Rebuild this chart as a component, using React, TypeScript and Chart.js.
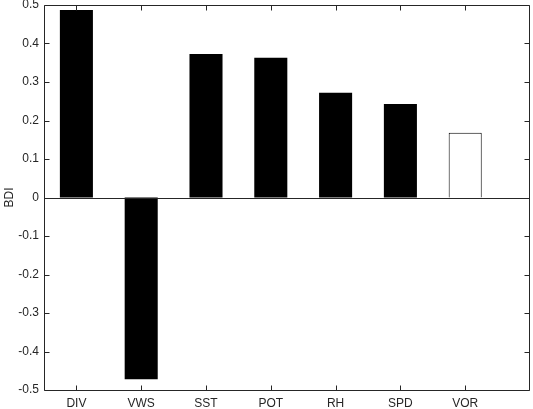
import React, { useEffect, useRef } from 'react';
import { Chart, registerables } from 'chart.js';

Chart.register(...registerables);

const categories = ['DIV', 'VWS', 'SST', 'POT', 'RH', 'SPD', 'VOR'];
const bdiValues = [0.487, -0.472, 0.373, 0.363, 0.272, 0.243, 0.168];
const barFilled = [true, true, true, true, true, true, false];
const yTicks = [-0.5, -0.4, -0.3, -0.2, -0.1, 0, 0.1, 0.2, 0.3, 0.4, 0.5];
const yTickLabels = ['-0.5', '-0.4', '-0.3', '-0.2', '-0.1', '0', '0.1', '0.2', '0.3', '0.4', '0.5'];
const yTitle = 'BDI';

const AXIS_COLOR = '#262626';
const FONT = { family: 'Liberation Sans, Arial, Helvetica, sans-serif', size: 12 };

const boxPlugin = {
  id: 'matlabBox',
  afterDatasetsDraw(chart: any) {
    const { ctx, chartArea, scales } = chart;
    const x = scales.x;
    const y = scales.y;
    const L = Math.round(chartArea.left) + 0.5;
    const R = Math.round(chartArea.right) - 0.5;
    const T = Math.round(chartArea.top) + 0.5;
    const B = Math.round(chartArea.bottom) + 0.5;
    const tl = 5;
    ctx.save();
    ctx.strokeStyle = AXIS_COLOR;
    ctx.lineWidth = 1;
    const z = Math.round(y.getPixelForValue(0)) + 0.5;
    ctx.beginPath();
    ctx.moveTo(L, z);
    ctx.lineTo(R, z);
    ctx.stroke();
    ctx.beginPath();
    ctx.rect(L, T, R - L, B - T);
    ctx.stroke();
    ctx.beginPath();
    yTicks.forEach((v) => {
      const py = Math.round(y.getPixelForValue(v)) + 0.5;
      ctx.moveTo(L, py);
      ctx.lineTo(L + tl, py);
      ctx.moveTo(R, py);
      ctx.lineTo(R - tl, py);
    });
    categories.forEach((_, i) => {
      const px = Math.round(x.getPixelForValue(i + 1)) + 0.5;
      ctx.moveTo(px, B);
      ctx.lineTo(px, B - tl);
      ctx.moveTo(px, T);
      ctx.lineTo(px, T + tl);
    });
    ctx.stroke();
    ctx.restore();
  },
};

export default function App() {
  const canvasRef = useRef<HTMLCanvasElement | null>(null);

  useEffect(() => {
    const canvas = canvasRef.current;
    if (!canvas) return;
    const chart = new Chart(canvas, {
      type: 'bar',
      data: {
        datasets: [
          {
            data: bdiValues.map((v, i) => ({ x: i + 1, y: v })),
            backgroundColor: barFilled.map((f) => (f ? '#000000' : '#ffffff')),
            borderColor: '#000000',
            borderWidth: barFilled.map((f) => (f ? 0 : 1)),
            categoryPercentage: 1,
            barPercentage: 0.51,
          } as any,
        ],
      },
      options: {
        animation: false,
        responsive: false,
        devicePixelRatio: 1,
        layout: { padding: { top: 5, right: 3, bottom: 0, left: 0 } },
        plugins: { legend: { display: false }, tooltip: { enabled: false } },
        scales: {
          x: {
            type: 'linear',
            min: 0.5,
            max: 8,
            offset: false,
            grid: { display: false, drawTicks: false, offset: false },
            border: { display: false },
            afterBuildTicks: (scale: any) => {
              scale.ticks = categories.map((_, i) => ({ value: i + 1 }));
            },
            afterFit: (scale: any) => {
              scale.height = 19;
              scale.paddingLeft = 0;
              scale.paddingRight = 0;
            },
            ticks: {
              autoSkip: false,
              maxRotation: 0,
              padding: 6,
              color: AXIS_COLOR,
              font: FONT,
              callback: (value: any) => categories[Math.round(Number(value)) - 1] ?? '',
            },
          },
          y: {
            type: 'linear',
            min: -0.5,
            max: 0.5,
            grid: { display: false, drawTicks: false },
            border: { display: false },
            afterBuildTicks: (scale: any) => {
              scale.ticks = yTicks.map((v) => ({ value: v }));
            },
            afterFit: (scale: any) => {
              scale.width = 44;
              scale.paddingTop = 0;
              scale.paddingBottom = 0;
            },
            ticks: {
              padding: 5,
              color: AXIS_COLOR,
              font: FONT,
              callback: (value: any) => {
                const idx = yTicks.findIndex((t) => Math.abs(t - Number(value)) < 1e-9);
                return idx >= 0 ? yTickLabels[idx] : '';
              },
            },
            title: {
              display: true,
              text: yTitle,
              color: AXIS_COLOR,
              font: FONT,
              padding: { top: 2, bottom: 0 },
            },
          },
        },
      },
      plugins: [boxPlugin],
    });
    return () => chart.destroy();
  }, []);

  return (
    <div style={{ position: 'absolute', left: 0, top: 0, width: 533, height: 409, background: '#fff' }}>
      <canvas ref={canvasRef} width={533} height={409} />
    </div>
  );
}
